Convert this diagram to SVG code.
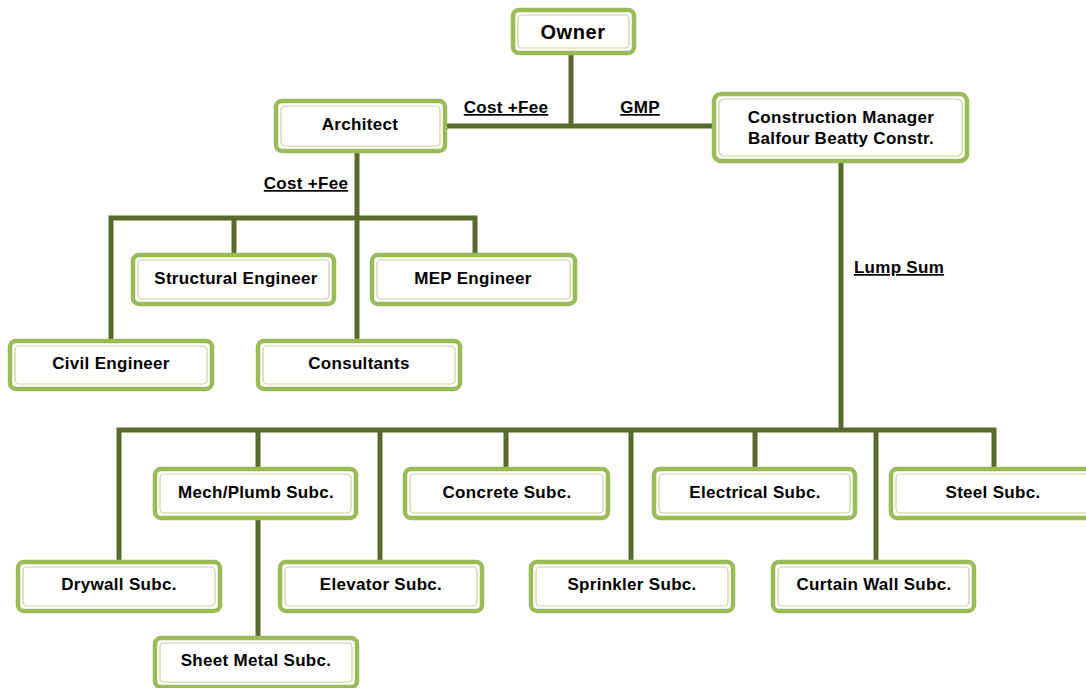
<svg xmlns="http://www.w3.org/2000/svg" width="1086" height="688" viewBox="0 0 1086 688">
<style>
.o{fill:#fff;stroke:#9BBB59;stroke-width:4.5}
.i{fill:none;stroke:#C4D79B;stroke-width:1.2}
.t{font-family:"Liberation Sans",Arial,sans-serif;font-weight:bold;font-size:17px;letter-spacing:0.3px;fill:#000;text-anchor:middle}
.l{font-family:"Liberation Sans",Arial,sans-serif;font-weight:bold;font-size:17px;letter-spacing:0.3px;fill:#000;text-anchor:middle;text-decoration:underline}
.big{font-size:20px;letter-spacing:0.6px}
.c{fill:none;stroke:#586B2C;stroke-width:5;stroke-linejoin:miter;stroke-linecap:butt}
</style>
<rect width="1086" height="688" fill="#fff"/>
<g id="connectors">
<path class="c" d="M571 55V126M446 126H714"/>
<path class="c" d="M357 153V218M111 340V218H475V255M234 218V255M357 218V340"/>
<path class="c" d="M841 163V430M119 560V430H994V468M258 430V468M380 430V560M506 430V468M631 430V560M755 430V468M876 430V560"/>
<path class="c" d="M258 520V637"/>
</g>
<g id="labels">
<text class="l" x="506" y="113">Cost +Fee</text>
<text class="l" x="640" y="113">GMP</text>
<text class="l" x="306" y="189">Cost +Fee</text>
<text class="l" x="899" y="273">Lump Sum</text>
</g>
<g id="owner"><rect class="o" x="513" y="10" width="121" height="43" rx="6"/><rect class="i" x="518" y="15" width="111" height="33" rx="4"/><text class="t big" x="573" y="39">Owner</text></g>
<g id="architect"><rect class="o" x="276" y="101" width="169" height="50" rx="6"/><rect class="i" x="281" y="106" width="159" height="40" rx="4"/><text class="t" x="360" y="130">Architect</text></g>
<g id="cm"><rect class="o" x="714" y="94" width="253" height="67" rx="7"/><rect class="i" x="719" y="99" width="243" height="57" rx="5"/><text class="t" x="841" y="123">Construction Manager</text><text class="t" x="841" y="144">Balfour Beatty Constr.</text></g>
<g id="structural"><rect class="o" x="133" y="255" width="201" height="49" rx="6"/><rect class="i" x="138" y="260" width="191" height="39" rx="4"/><text class="t" x="236" y="284">Structural Engineer</text></g>
<g id="mep"><rect class="o" x="372" y="255" width="203" height="49" rx="6"/><rect class="i" x="377" y="260" width="193" height="39" rx="4"/><text class="t" x="473" y="284">MEP Engineer</text></g>
<g id="civil"><rect class="o" x="10" y="341" width="202" height="48" rx="6"/><rect class="i" x="15" y="346" width="192" height="38" rx="4"/><text class="t" x="111" y="369">Civil Engineer</text></g>
<g id="consultants"><rect class="o" x="258" y="341" width="202" height="48" rx="6"/><rect class="i" x="263" y="346" width="192" height="38" rx="4"/><text class="t" x="359" y="369">Consultants</text></g>
<g id="mech"><rect class="o" x="155" y="469" width="201" height="49" rx="6"/><rect class="i" x="160" y="474" width="191" height="39" rx="4"/><text class="t" x="256" y="498">Mech/Plumb Subc.</text></g>
<g id="concrete"><rect class="o" x="405" y="469" width="203" height="49" rx="6"/><rect class="i" x="410" y="474" width="193" height="39" rx="4"/><text class="t" x="507" y="498">Concrete Subc.</text></g>
<g id="electrical"><rect class="o" x="654" y="469" width="201" height="49" rx="6"/><rect class="i" x="659" y="474" width="191" height="39" rx="4"/><text class="t" x="755" y="498">Electrical Subc.</text></g>
<g id="steel"><rect class="o" x="891" y="469" width="203" height="49" rx="6"/><rect class="i" x="896" y="474" width="193" height="39" rx="4"/><text class="t" x="993" y="498">Steel Subc.</text></g>
<g id="drywall"><rect class="o" x="18" y="562" width="202" height="49" rx="6"/><rect class="i" x="23" y="567" width="192" height="39" rx="4"/><text class="t" x="119" y="590">Drywall Subc.</text></g>
<g id="elevator"><rect class="o" x="280" y="562" width="202" height="49" rx="6"/><rect class="i" x="285" y="567" width="192" height="39" rx="4"/><text class="t" x="381" y="590">Elevator Subc.</text></g>
<g id="sprinkler"><rect class="o" x="531" y="562" width="202" height="49" rx="6"/><rect class="i" x="536" y="567" width="192" height="39" rx="4"/><text class="t" x="632" y="590">Sprinkler Subc.</text></g>
<g id="curtain"><rect class="o" x="773" y="562" width="201" height="49" rx="6"/><rect class="i" x="778" y="567" width="191" height="39" rx="4"/><text class="t" x="874" y="590">Curtain Wall Subc.</text></g>
<g id="sheetmetal"><rect class="o" x="155" y="638" width="202" height="49" rx="6"/><rect class="i" x="160" y="643" width="192" height="39" rx="4"/><text class="t" x="256" y="666">Sheet Metal Subc.</text></g>
</svg>
